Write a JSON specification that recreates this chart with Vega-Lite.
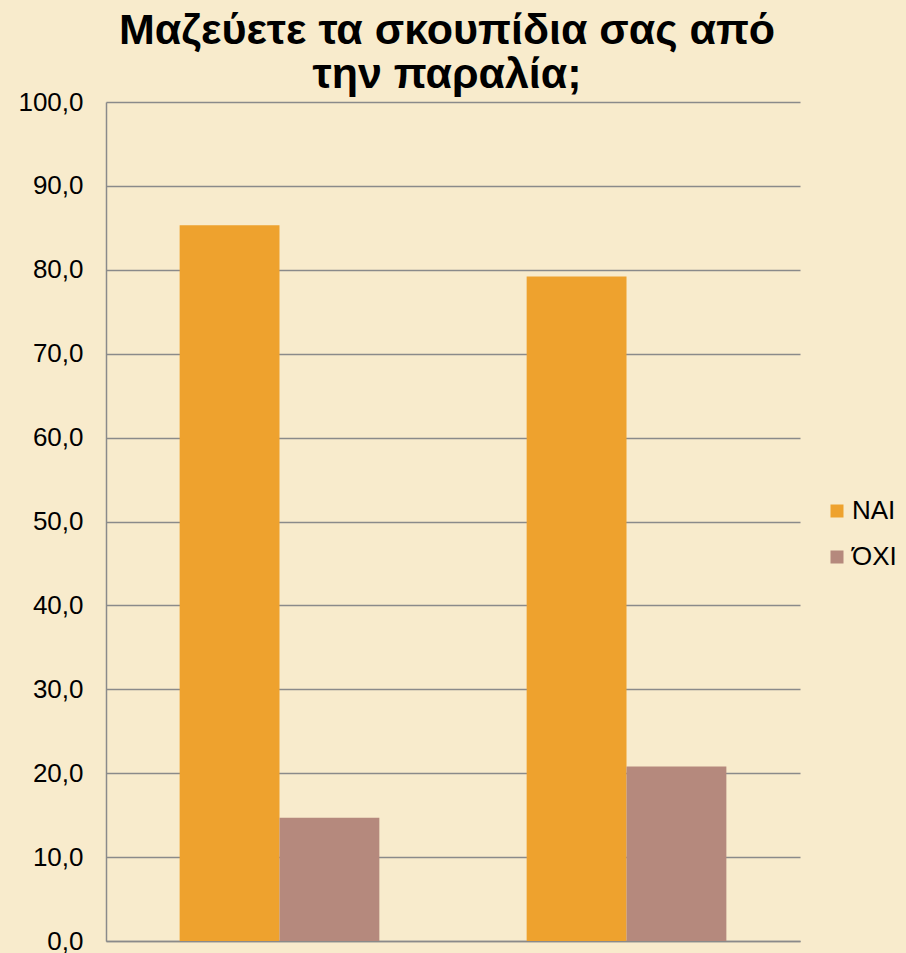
{
  "$schema": "https://vega.github.io/schema/vega-lite/v6.json",
  "autosize": "none",
  "width": 694,
  "height": 839,
  "padding": {"left": 106, "top": 102, "right": 106, "bottom": 12},
  "background": "#f8ebcc",
  "title": {
    "text": ["Μαζεύετε τα σκουπίδια σας από", "την παραλία;"],
    "font": "Liberation Sans",
    "fontSize": 43,
    "fontWeight": "bold",
    "color": "#000000",
    "lineHeight": 44,
    "anchor": "middle",
    "dx": -6,
    "offset": -8
  },
  "config": {
    "view": {"stroke": null},
    "font": "Liberation Sans"
  },
  "data": {
    "values": [
      {"group": "A", "answer": "ΝΑΙ", "value": 85.3},
      {"group": "A", "answer": "ΌΧΙ", "value": 14.7},
      {"group": "B", "answer": "ΝΑΙ", "value": 79.2},
      {"group": "B", "answer": "ΌΧΙ", "value": 20.8}
    ]
  },
  "mark": {"type": "bar"},
  "encoding": {
    "x": {
      "field": "group",
      "type": "nominal",
      "scale": {"paddingInner": 0.4245, "paddingOuter": 0.2122},
      "axis": {"title": null, "labels": false, "ticks": false, "domain": true, "domainColor": "#8a8a8a", "domainWidth": 1.5}
    },
    "xOffset": {"field": "answer", "type": "nominal", "sort": ["ΝΑΙ", "ΌΧΙ"], "scale": {"paddingInner": 0, "paddingOuter": 0}},
    "y": {
      "field": "value",
      "type": "quantitative",
      "scale": {"domain": [0, 100], "nice": false},
      "axis": {
        "title": null,
        "values": [0, 10, 20, 30, 40, 50, 60, 70, 80, 90, 100],
        "labelExpr": "replace(format(datum.value, '.1f'), '.', ',')",
        "labelFontSize": 26,
        "labelColor": "#000000",
        "labelPadding": 23,
        "ticks": false,
        "domain": true,
        "domainColor": "#8a8a8a",
        "domainWidth": 1.5,
        "grid": true,
        "gridColor": "#8a8a8a",
        "gridWidth": 1.5
      }
    },
    "color": {
      "field": "answer",
      "type": "nominal",
      "sort": ["ΝΑΙ", "ΌΧΙ"],
      "scale": {"domain": ["ΝΑΙ", "ΌΧΙ"], "range": ["#eea22e", "#b5897d"]},
      "legend": {
        "title": null,
        "orient": "none",
        "legendX": 718,
        "legendY": 396,
        "padding": 0,
        "symbolType": "square",
        "symbolSize": 169,
        "symbolStrokeWidth": 0,
        "labelFontSize": 26,
        "labelColor": "#000000",
        "labelOffset": 2,
        "rowPadding": 20
      }
    }
  }
}
